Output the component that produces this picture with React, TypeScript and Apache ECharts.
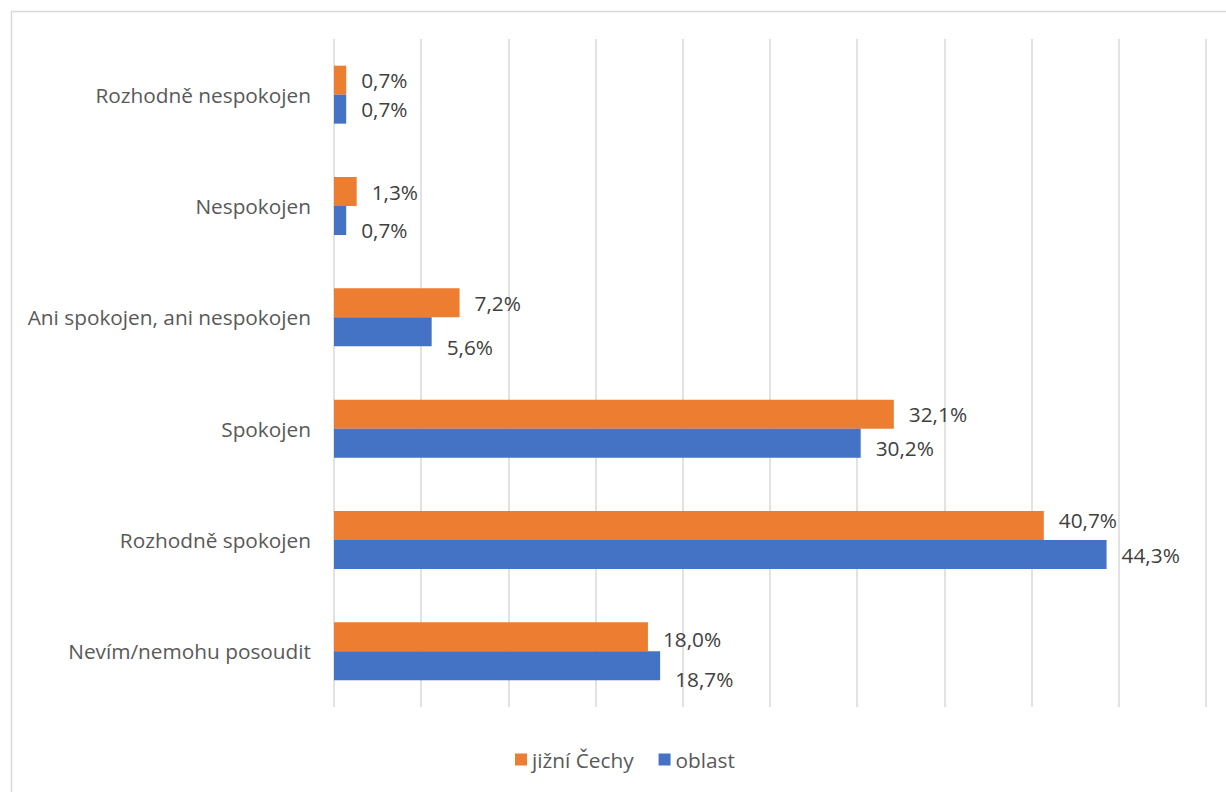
import React, { useEffect, useRef } from "react";
import * as echarts from "echarts";

// Survey answers, listed top to bottom
const categories = [
  "Rozhodně nespokojen",
  "Nespokojen",
  "Ani spokojen, ani nespokojen",
  "Spokojen",
  "Rozhodně spokojen",
  "Nevím/nemohu posoudit",
];

const seriesNames = ["jižní Čechy", "oblast"];

// Share of respondents in percent
const jizniCechy = [0.7, 1.3, 7.2, 32.1, 40.7, 18.0];
const oblast = [0.7, 0.7, 5.6, 30.2, 44.3, 18.7];

// Value axis: 0–50 % with a gridline every 5 %
const axisMin = 0;
const axisMax = 50;
const axisStep = 5;

// Small vertical nudges for individual value labels (px)
const orangeLabelDy = [0, 0, 0, 0, -6, 2];
const blueLabelDy = [0, 9, 15, 5, 0, 13];

const FONT = "'Open Sans', 'Noto Sans', sans-serif";
const FONT_SIZE = 20.8;
const ORANGE = "#ED7D31";
const BLUE = "#4472C4";

const fmt = (v: number) => v.toFixed(1).replace(".", ",") + "%";

function buildSeries(name: string, values: number[], color: string, dys: number[]) {
  return {
    name,
    type: "bar" as const,
    barWidth: 29,
    barGap: "0%",
    itemStyle: { color },
    data: values.map((v, i) => ({
      value: v,
      label: { offset: [0, dys[i]] },
    })),
    label: {
      show: true,
      position: "right" as const,
      distance: 15,
      formatter: (p: any) => fmt(p.value),
      color: "#404040",
      fontFamily: FONT,
      fontSize: FONT_SIZE,
    },
  };
}

export default function App() {
  const ref = useRef<HTMLDivElement>(null);

  useEffect(() => {
    if (!ref.current) return;
    const chart = echarts.init(ref.current, null, { renderer: "svg" });
    chart.setOption({
      animation: false,
      backgroundColor: "#ffffff",
      textStyle: { fontFamily: FONT },
      graphic: [
        {
          type: "rect",
          left: 9,
          top: 9,
          shape: { x: 0, y: 0, width: 1240, height: 800 },
          style: { fill: "none", stroke: "#d9d9d9", lineWidth: 1.5 },
          silent: true,
          z: -10,
        },
      ],
      grid: { left: 334, right: 20, top: 39, bottom: 85 },
      xAxis: {
        type: "value",
        min: axisMin,
        max: axisMax,
        interval: axisStep,
        axisLabel: { show: false },
        axisLine: { show: false },
        axisTick: { show: false },
        splitLine: { show: true, lineStyle: { color: "#d9d9d9", width: 1.5 } },
      },
      yAxis: {
        type: "category",
        inverse: true,
        data: categories,
        axisLine: { show: false },
        axisTick: { show: false },
        axisLabel: {
          margin: 23,
          color: "#595959",
          fontFamily: FONT,
          fontSize: FONT_SIZE,
        },
      },
      legend: {
        data: seriesNames,
        left: 510,
        top: 744,
        itemWidth: 12,
        itemHeight: 12,
        itemGap: 25,
        icon: "rect",
        textStyle: { color: "#595959", fontFamily: FONT, fontSize: FONT_SIZE },
      },
      series: [
        buildSeries(seriesNames[0], jizniCechy, ORANGE, orangeLabelDy),
        buildSeries(seriesNames[1], oblast, BLUE, blueLabelDy),
      ],
    });
    return () => chart.dispose();
  }, []);

  return (
    <div
      ref={ref}
      style={{ position: "fixed", left: 0, top: 0, width: 1226, height: 792 }}
    />
  );
}
